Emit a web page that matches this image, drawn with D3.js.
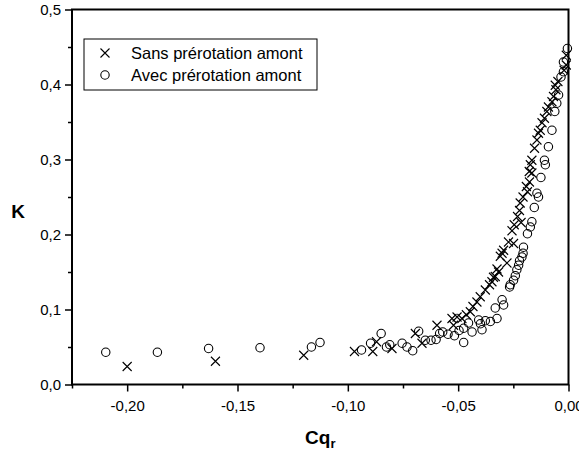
<!DOCTYPE html>
<html lang="fr">
<head>
    <meta charset="UTF-8">
    <title>K vs Cqr</title>
    <script src="https://cdnjs.cloudflare.com/ajax/libs/d3/7.8.5/d3.min.js"></script>
    <style>
        body {
            margin: 0;
            background: #fff;
            font-family: "Liberation Sans", Arial, sans-serif;
        }
        .frame {
            fill: none;
            stroke: #000;
            stroke-width: 2;
        }
        .tick-label {
            font-size: 15px;
            fill: #000;
        }
        .axis-title {
            font-size: 19px;
            font-weight: bold;
            fill: #000;
        }
        .marker {
            fill: none;
            stroke: #000;
            stroke-width: 1.1;
        }
        .legend-text {
            font-size: 16.5px;
            fill: #000;
        }
    </style>
</head>
<body>
    <div id="chart"></div>

    <script>
        // Sans prérotation amont : [Cqr, K]
        const sansData = [
            [-0.200, 0.024], [-0.160, 0.031], [-0.120, 0.039],
            [-0.097, 0.044], [-0.0887, 0.044], [-0.087, 0.057], [-0.080, 0.048],
            [-0.0694, 0.068], [-0.0664, 0.055], [-0.0596, 0.079],
            [-0.0528, 0.088], [-0.0521, 0.079], [-0.0505, 0.090], [-0.0483, 0.088],
            [-0.0463, 0.093], [-0.0445, 0.097], [-0.0433, 0.104], [-0.0415, 0.110],
            [-0.0400, 0.117], [-0.0377, 0.126], [-0.0358, 0.133], [-0.0347, 0.137],
            [-0.0340, 0.143], [-0.0332, 0.144], [-0.0324, 0.154], [-0.0317, 0.150],
            [-0.0309, 0.171], [-0.0301, 0.175], [-0.0294, 0.179], [-0.0279, 0.162],
            [-0.0272, 0.190], [-0.0249, 0.188], [-0.0256, 0.205], [-0.0246, 0.213],
            [-0.0215, 0.216], [-0.0231, 0.224], [-0.0222, 0.232], [-0.0219, 0.242],
            [-0.0206, 0.250], [-0.0186, 0.257], [-0.0191, 0.264], [-0.0177, 0.270],
            [-0.0166, 0.282], [-0.0178, 0.284], [-0.0173, 0.293], [-0.0166, 0.299],
            [-0.0154, 0.315], [-0.0143, 0.326], [-0.0136, 0.335], [-0.0128, 0.339],
            [-0.0120, 0.349], [-0.0109, 0.355], [-0.0098, 0.364], [-0.0091, 0.370],
            [-0.0075, 0.377], [-0.0068, 0.384], [-0.0057, 0.393], [-0.0060, 0.399],
            [-0.0048, 0.404], [-0.0020, 0.419], [-0.0010, 0.426], [-0.0010, 0.439]
        ];

        // Avec prérotation amont : [Cqr, K]
        const avecData = [
            [-0.2097, 0.043], [-0.1863, 0.043], [-0.1631, 0.048], [-0.1398, 0.049],
            [-0.1165, 0.050], [-0.1126, 0.056],
            [-0.0938, 0.046], [-0.0897, 0.055], [-0.0849, 0.068], [-0.0825, 0.050],
            [-0.0810, 0.053], [-0.0754, 0.055], [-0.0732, 0.050], [-0.0706, 0.045],
            [-0.0679, 0.071], [-0.0649, 0.059], [-0.0623, 0.059], [-0.0600, 0.060],
            [-0.0584, 0.068], [-0.0570, 0.070], [-0.0546, 0.067], [-0.0517, 0.065],
            [-0.0496, 0.072], [-0.0475, 0.075], [-0.0475, 0.056], [-0.0453, 0.082],
            [-0.0437, 0.070], [-0.0407, 0.086], [-0.0399, 0.081], [-0.0392, 0.073],
            [-0.0377, 0.085], [-0.0354, 0.084], [-0.0324, 0.088], [-0.0332, 0.102],
            [-0.0301, 0.113], [-0.0294, 0.106], [-0.0267, 0.130], [-0.0264, 0.133],
            [-0.0249, 0.139], [-0.0241, 0.145], [-0.0234, 0.153], [-0.0226, 0.159],
            [-0.0222, 0.165], [-0.0211, 0.170], [-0.0206, 0.175], [-0.0204, 0.183],
            [-0.0186, 0.201], [-0.0173, 0.210], [-0.0166, 0.217], [-0.0155, 0.236],
            [-0.0136, 0.250], [-0.0143, 0.255], [-0.0125, 0.276], [-0.0105, 0.293],
            [-0.0109, 0.299], [-0.0091, 0.317], [-0.0075, 0.339], [-0.0062, 0.364],
            [-0.0053, 0.375], [-0.0045, 0.386], [-0.0034, 0.410], [-0.0023, 0.417],
            [-0.0023, 0.430], [-0.0005, 0.448]
        ];

        const xTicks = [-0.20, -0.15, -0.10, -0.05, 0.00];
        const xMinorTicks = [-0.225, -0.175, -0.125, -0.075, -0.025];
        const yTicks = [0.0, 0.1, 0.2, 0.3, 0.4, 0.5];
        const yMinorTicks = [0.05, 0.15, 0.25, 0.35, 0.45];
        const legendLabels = ["Sans prérotation amont", "Avec prérotation amont"];

        const totalWidth = 579, totalHeight = 454;
        const margin = {top: 9.5, right: 10.5, bottom: 69.5, left: 72};
        const width = totalWidth - margin.left - margin.right;
        const height = totalHeight - margin.top - margin.bottom;

        // French number format: comma decimal, plain hyphen minus
        const fr = d3.formatLocale({decimal: ",", thousands: " ", grouping: [3], currency: ["", " €"], minus: "-"});

        const svg = d3.select("#chart")
            .append("svg")
            .attr("width", totalWidth)
            .attr("height", totalHeight)
            .append("g")
            .attr("transform", `translate(${margin.left},${margin.top})`);

        const x = d3.scaleLinear().domain([-0.225, 0]).range([0, width]);
        const y = d3.scaleLinear().domain([0, 0.5]).range([height, 0]);

        // Bottom axis, major + minor ticks outward
        const xAxis = svg.append("g")
            .attr("transform", `translate(0,${height})`)
            .call(d3.axisBottom(x).tickValues(xTicks).tickSize(7).tickPadding(4).tickFormat(fr.format(".2f")));
        xAxis.append("g")
            .call(d3.axisBottom(x).tickValues(xMinorTicks).tickSize(4).tickFormat(""));

        const yAxis = svg.append("g")
            .call(d3.axisLeft(y).tickValues(yTicks).tickSize(7).tickPadding(4).tickFormat(fr.format(".1f")));
        yAxis.append("g")
            .call(d3.axisLeft(y).tickValues(yMinorTicks).tickSize(4).tickFormat(""));

        svg.selectAll(".domain").remove();
        svg.selectAll(".tick line").attr("stroke", "#000").attr("stroke-width", 1.5);
        svg.selectAll(".tick text")
            .attr("class", "tick-label")
            .attr("font-family", null)
            .attr("font-size", null);
        xAxis.selectAll(".tick text").attr("dy", "1em");

        // Plot frame
        svg.append("rect")
            .attr("class", "frame")
            .attr("width", width)
            .attr("height", height);

        // Axis titles
        svg.append("text")
            .attr("class", "axis-title")
            .attr("x", 18 - margin.left)
            .attr("y", y(0.231))
            .attr("dy", "0.35em")
            .style("text-anchor", "middle")
            .text("K");

        const xTitle = svg.append("text")
            .attr("class", "axis-title")
            .attr("x", width / 2)
            .attr("y", height + 59)
            .style("text-anchor", "middle");
        xTitle.append("tspan").text("Cq");
        xTitle.append("tspan").attr("font-size", "13px").attr("dy", "4").text("r");

        // Markers
        const crossPath = (cx, cy, s) =>
            `M${cx - s},${cy - s}L${cx + s},${cy + s}M${cx - s},${cy + s}L${cx + s},${cy - s}`;

        svg.append("g")
            .selectAll("path")
            .data(sansData)
            .join("path")
            .attr("class", "marker")
            .attr("d", d => crossPath(x(d[0]), y(d[1]), 4.5));

        svg.append("g")
            .selectAll("circle")
            .data(avecData)
            .join("circle")
            .attr("class", "marker")
            .attr("cx", d => x(d[0]))
            .attr("cy", d => y(d[1]))
            .attr("r", 4.2);

        // Legend
        const legend = svg.append("g")
            .attr("transform", `translate(${84 - margin.left},${39 - margin.top})`);
        legend.append("rect")
            .attr("width", 233)
            .attr("height", 51)
            .attr("fill", "#fff")
            .attr("stroke", "#000")
            .attr("stroke-width", 1);

        legendLabels.forEach((label, i) => {
            const cy = 14 + i * 22;
            if (i === 0) {
                legend.append("path")
                    .attr("class", "marker")
                    .attr("d", crossPath(21, cy, 4.5));
            } else {
                legend.append("circle")
                    .attr("class", "marker")
                    .attr("cx", 21)
                    .attr("cy", cy)
                    .attr("r", 4.2);
            }
            legend.append("text")
                .attr("class", "legend-text")
                .attr("x", 47)
                .attr("y", cy)
                .attr("dy", "0.35em")
                .text(label);
        });
    </script>
</body>
</html>
